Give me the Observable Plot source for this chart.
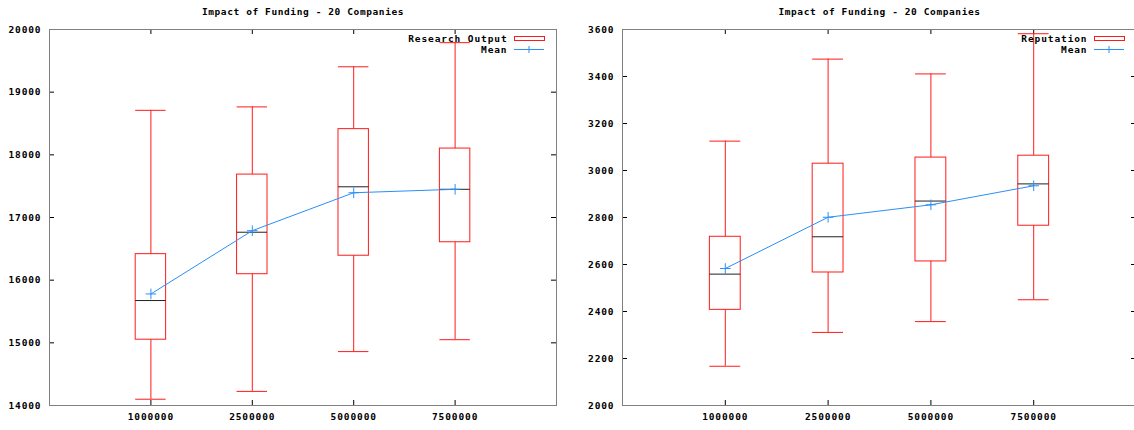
<!DOCTYPE html>
<html>
<head>
<meta charset="utf-8">
<script src="https://cdn.jsdelivr.net/npm/d3@7"></script>
<script src="https://cdn.jsdelivr.net/npm/@observablehq/plot@0.6"></script>
<style>
  html, body { margin: 0; padding: 0; background: #fff; overflow: hidden; }
  #wrap { position: relative; width: 1134px; height: 430px; overflow: hidden; }
  #wrap svg { position: absolute; top: 0; }
  #wrap svg text { letter-spacing: 0.9px; }
  #wrap svg .ttl text, #wrap svg text.ttl { letter-spacing: 0.6px; }
</style>
</head>
<body>
<div id="wrap"></div>
<script>
// ---- data ----
const funding = ["1000000", "2500000", "5000000", "7500000"];
const chartTitle = "Impact of Funding - 20 Companies";

const researchMin    = [14100, 14225, 14860, 15050];
const researchQ1     = [15050, 16095, 16390, 16605];
const researchMedian = [15675, 16765, 17490, 17450];
const researchQ3     = [16415, 17685, 18410, 18100];
const researchMax    = [18710, 18765, 19405, 19790];
const researchMean   = [15780, 16790, 17395, 17450];
const researchTicks  = [14000, 15000, 16000, 17000, 18000, 19000, 20000];

const repMin    = [2167, 2311, 2357, 2450];
const repQ1     = [2407, 2566, 2613, 2765];
const repMedian = [2559, 2718, 2870, 2943];
const repQ3     = [2718, 3029, 3055, 3063];
const repMax    = [3125, 3474, 3411, 3582];
const repMean   = [2583, 2801, 2854, 2935];
const repTicks  = [2000, 2200, 2400, 2600, 2800, 3000, 3200, 3400, 3600];

// ---- drawing ----
const RED = "#ff1a1a";
const BLUE = "#2a8ff7";
const FONT = "'DejaVu Sans Mono', 'Liberation Mono', monospace";

function panel({label, yTicks, mins, q1s, meds, q3s, maxs, means, width, marginLeft, marginRight, left}) {
  const height = 430, marginTop = 29, marginBottom = 25;
  const plotW = width - marginLeft - marginRight;
  const plotH = height - marginTop - marginBottom;
  const rows = funding.map((f, i) => ({
    pos: i + 1, f, min: mins[i], q1: q1s[i], med: meds[i], q3: q3s[i], max: maxs[i], mean: means[i]
  }));
  const positions = rows.map(d => d.pos);
  const half = 0.15;
  const tick = 5;
  const svg = Plot.plot({
    width, height, marginLeft, marginRight, marginTop, marginBottom,
    x: {type: "linear", domain: [0, funding.length + 1], axis: null},
    y: {type: "linear", domain: [yTicks[0], yTicks[yTicks.length - 1]], axis: null},
    style: {fontFamily: FONT, fontSize: "9.5px", fontWeight: "bold", background: "white", color: "black"},
    marks: [
      Plot.axisY(yTicks, {anchor: "left", label: null, tickSize: 0, tickPadding: 8, tickFormat: d => String(d), fill: "black"}),
      Plot.axisX(positions, {anchor: "bottom", label: null, tickSize: 0, tickPadding: 8, tickFormat: p => funding[p - 1], fill: "black"}),
      // inward ticks on all four sides
      Plot.tickY(yTicks, {y: d => d, insetRight: plotW - tick, stroke: "black"}),
      Plot.tickY(yTicks, {y: d => d, insetLeft: plotW - tick, stroke: "black"}),
      Plot.tickX(positions, {x: d => d, insetTop: plotH - tick, stroke: "black"}),
      Plot.tickX(positions, {x: d => d, insetBottom: plotH - tick, stroke: "black"}),
      // boxes
      Plot.rect(rows, {x1: d => d.pos - half, x2: d => d.pos + half, y1: "q1", y2: "q3", fill: "none", stroke: RED, strokeWidth: 1}),
      Plot.ruleX(rows, {x: "pos", y1: "q3", y2: "max", stroke: RED}),
      Plot.ruleX(rows, {x: "pos", y1: "min", y2: "q1", stroke: RED}),
      Plot.ruleY(rows, {y: "max", x1: d => d.pos - half, x2: d => d.pos + half, stroke: RED}),
      Plot.ruleY(rows, {y: "min", x1: d => d.pos - half, x2: d => d.pos + half, stroke: RED}),
      Plot.ruleY(rows, {y: "med", x1: d => d.pos - half, x2: d => d.pos + half, stroke: "#222"}),
      // mean
      Plot.line(rows, {x: "pos", y: "mean", stroke: BLUE, strokeWidth: 1}),
      Plot.dot(rows, {x: "pos", y: "mean", symbol: "plus", r: 3.5, stroke: BLUE, strokeWidth: 1}),
      Plot.frame({stroke: "#808080", strokeWidth: 1}),
      // title
      Plot.text([chartTitle], {frameAnchor: "top", dy: -17.5, lineAnchor: "middle", fontSize: 9.5, fill: "black", className: "ttl"}),
      // legend labels
      Plot.text([label], {frameAnchor: "top-right", dx: -49, dy: 9.6, textAnchor: "end", lineAnchor: "middle", fill: "black"}),
      Plot.text(["Mean"], {frameAnchor: "top-right", dx: -49, dy: 20.8, textAnchor: "end", lineAnchor: "middle", fill: "black"})
    ]
  });
  // legend swatches
  const s = d3.select(svg);
  const xr = width - marginRight;
  s.append("rect")
    .attr("x", xr - 42 + 0.5).attr("y", marginTop + 7.5)
    .attr("width", 30).attr("height", 4)
    .attr("fill", "none").attr("stroke", RED).attr("stroke-width", 1);
  s.append("line")
    .attr("x1", xr - 42).attr("x2", xr - 12)
    .attr("y1", marginTop + 20.5).attr("y2", marginTop + 20.5)
    .attr("stroke", BLUE).attr("stroke-width", 1);
  s.append("line")
    .attr("x1", xr - 27).attr("x2", xr - 27)
    .attr("y1", marginTop + 17).attr("y2", marginTop + 24)
    .attr("stroke", BLUE).attr("stroke-width", 1);
  svg.style.left = left + "px";
  return svg;
}

const wrap = document.getElementById("wrap");
wrap.appendChild(panel({
  label: "Research Output", yTicks: researchTicks,
  mins: researchMin, q1s: researchQ1, meds: researchMedian, q3s: researchQ3, maxs: researchMax, means: researchMean,
  width: 567, marginLeft: 49, marginRight: 11, left: 0
}));
wrap.appendChild(panel({
  label: "Reputation", yTicks: repTicks,
  mins: repMin, q1s: repQ1, meds: repMedian, q3s: repQ3, maxs: repMax, means: repMean,
  width: 571, marginLeft: 55, marginRight: 2, left: 567
}));
</script>
</body>
</html>
